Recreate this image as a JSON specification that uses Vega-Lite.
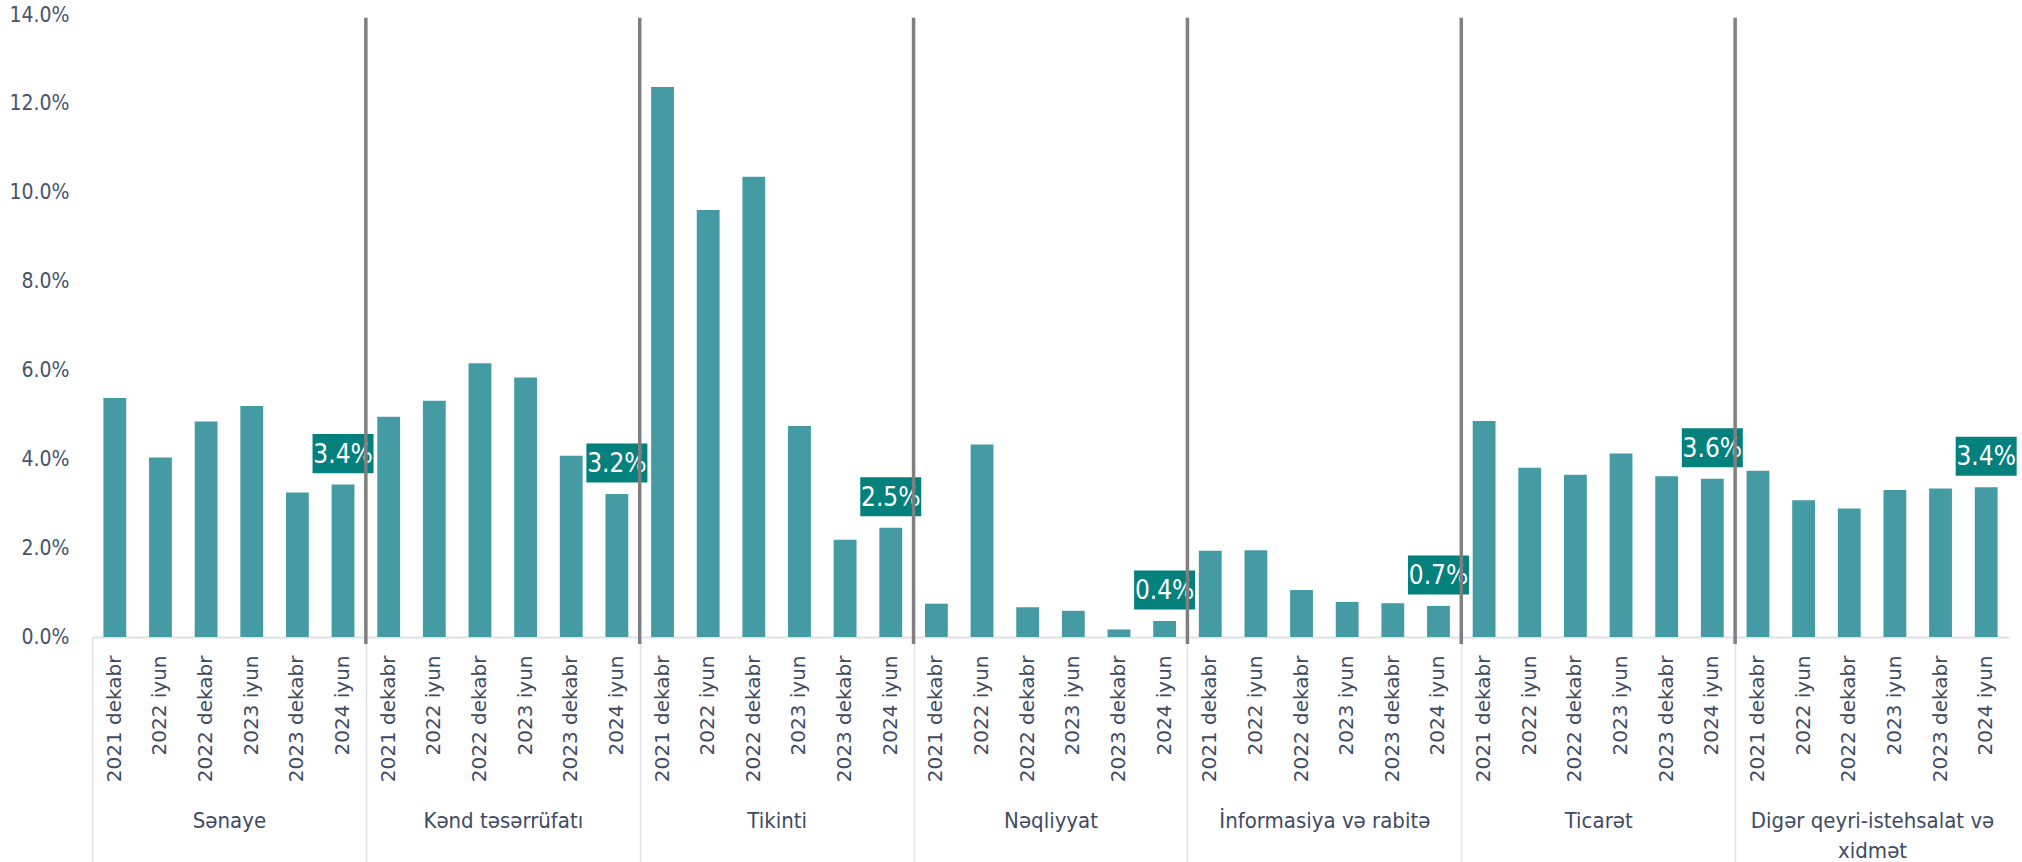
{
  "$schema": "https://vega.github.io/schema/vega-lite/v6.json",
  "autosize": {"type": "none"},
  "width": 1917,
  "height": 622,
  "padding": {"left": 92, "top": 15, "right": 13, "bottom": 225},
  "background": "white",
  "config": {"view": {"stroke": null}},
  "data": {"values": [
    {"sector": "Sənaye", "period": "2021 dekabr", "bar": "Sənaye|2021 dekabr", "value": 0.0538},
    {"sector": "Sənaye", "period": "2022 iyun", "bar": "Sənaye|2022 iyun", "value": 0.0404},
    {"sector": "Sənaye", "period": "2022 dekabr", "bar": "Sənaye|2022 dekabr", "value": 0.0485},
    {"sector": "Sənaye", "period": "2023 iyun", "bar": "Sənaye|2023 iyun", "value": 0.0520},
    {"sector": "Sənaye", "period": "2023 dekabr", "bar": "Sənaye|2023 dekabr", "value": 0.0325},
    {"sector": "Sənaye", "period": "2024 iyun", "bar": "Sənaye|2024 iyun", "value": 0.0343},
    {"sector": "Kənd təsərrüfatı", "period": "2021 dekabr", "bar": "Kənd təsərrüfatı|2021 dekabr", "value": 0.0496},
    {"sector": "Kənd təsərrüfatı", "period": "2022 iyun", "bar": "Kənd təsərrüfatı|2022 iyun", "value": 0.0532},
    {"sector": "Kənd təsərrüfatı", "period": "2022 dekabr", "bar": "Kənd təsərrüfatı|2022 dekabr", "value": 0.0616},
    {"sector": "Kənd təsərrüfatı", "period": "2023 iyun", "bar": "Kənd təsərrüfatı|2023 iyun", "value": 0.0584},
    {"sector": "Kənd təsərrüfatı", "period": "2023 dekabr", "bar": "Kənd təsərrüfatı|2023 dekabr", "value": 0.0408},
    {"sector": "Kənd təsərrüfatı", "period": "2024 iyun", "bar": "Kənd təsərrüfatı|2024 iyun", "value": 0.0322},
    {"sector": "Tikinti", "period": "2021 dekabr", "bar": "Tikinti|2021 dekabr", "value": 0.1238},
    {"sector": "Tikinti", "period": "2022 iyun", "bar": "Tikinti|2022 iyun", "value": 0.0961},
    {"sector": "Tikinti", "period": "2022 dekabr", "bar": "Tikinti|2022 dekabr", "value": 0.1036},
    {"sector": "Tikinti", "period": "2023 iyun", "bar": "Tikinti|2023 iyun", "value": 0.0475},
    {"sector": "Tikinti", "period": "2023 dekabr", "bar": "Tikinti|2023 dekabr", "value": 0.0219},
    {"sector": "Tikinti", "period": "2024 iyun", "bar": "Tikinti|2024 iyun", "value": 0.0246},
    {"sector": "Nəqliyyat", "period": "2021 dekabr", "bar": "Nəqliyyat|2021 dekabr", "value": 0.0075},
    {"sector": "Nəqliyyat", "period": "2022 iyun", "bar": "Nəqliyyat|2022 iyun", "value": 0.0433},
    {"sector": "Nəqliyyat", "period": "2022 dekabr", "bar": "Nəqliyyat|2022 dekabr", "value": 0.0067},
    {"sector": "Nəqliyyat", "period": "2023 iyun", "bar": "Nəqliyyat|2023 iyun", "value": 0.0059},
    {"sector": "Nəqliyyat", "period": "2023 dekabr", "bar": "Nəqliyyat|2023 dekabr", "value": 0.0017},
    {"sector": "Nəqliyyat", "period": "2024 iyun", "bar": "Nəqliyyat|2024 iyun", "value": 0.0036},
    {"sector": "İnformasiya və rabitə", "period": "2021 dekabr", "bar": "İnformasiya və rabitə|2021 dekabr", "value": 0.0194},
    {"sector": "İnformasiya və rabitə", "period": "2022 iyun", "bar": "İnformasiya və rabitə|2022 iyun", "value": 0.0195},
    {"sector": "İnformasiya və rabitə", "period": "2022 dekabr", "bar": "İnformasiya və rabitə|2022 dekabr", "value": 0.0106},
    {"sector": "İnformasiya və rabitə", "period": "2023 iyun", "bar": "İnformasiya və rabitə|2023 iyun", "value": 0.0079},
    {"sector": "İnformasiya və rabitə", "period": "2023 dekabr", "bar": "İnformasiya və rabitə|2023 dekabr", "value": 0.0076},
    {"sector": "İnformasiya və rabitə", "period": "2024 iyun", "bar": "İnformasiya və rabitə|2024 iyun", "value": 0.0070},
    {"sector": "Ticarət", "period": "2021 dekabr", "bar": "Ticarət|2021 dekabr", "value": 0.0486},
    {"sector": "Ticarət", "period": "2022 iyun", "bar": "Ticarət|2022 iyun", "value": 0.0381},
    {"sector": "Ticarət", "period": "2022 dekabr", "bar": "Ticarət|2022 dekabr", "value": 0.0365},
    {"sector": "Ticarət", "period": "2023 iyun", "bar": "Ticarət|2023 iyun", "value": 0.0413},
    {"sector": "Ticarət", "period": "2023 dekabr", "bar": "Ticarət|2023 dekabr", "value": 0.0362},
    {"sector": "Ticarət", "period": "2024 iyun", "bar": "Ticarət|2024 iyun", "value": 0.0356},
    {"sector": "Digər qeyri-istehsalat və xidmət", "period": "2021 dekabr", "bar": "Digər qeyri-istehsalat və xidmət|2021 dekabr", "value": 0.0374},
    {"sector": "Digər qeyri-istehsalat və xidmət", "period": "2022 iyun", "bar": "Digər qeyri-istehsalat və xidmət|2022 iyun", "value": 0.0308},
    {"sector": "Digər qeyri-istehsalat və xidmət", "period": "2022 dekabr", "bar": "Digər qeyri-istehsalat və xidmət|2022 dekabr", "value": 0.0289},
    {"sector": "Digər qeyri-istehsalat və xidmət", "period": "2023 iyun", "bar": "Digər qeyri-istehsalat və xidmət|2023 iyun", "value": 0.0331},
    {"sector": "Digər qeyri-istehsalat və xidmət", "period": "2023 dekabr", "bar": "Digər qeyri-istehsalat və xidmət|2023 dekabr", "value": 0.0334},
    {"sector": "Digər qeyri-istehsalat və xidmət", "period": "2024 iyun", "bar": "Digər qeyri-istehsalat və xidmət|2024 iyun", "value": 0.0337}
  ]},
  "resolve": {"scale": {"x": "independent"}, "axis": {"x": "independent"}},
  "layer": [
    {
      "encoding": {
        "x": {
          "field": "bar", "type": "nominal", "sort": null,
          "scale": {"paddingInner": 0.5, "paddingOuter": 0.25},
          "axis": {
            "orient": "bottom", "title": null, "labelAngle": -90,
            "labelExpr": "split(datum.value, '|')[1]",
            "labelFont": "DejaVu Sans", "labelFontSize": 20, "labelColor": "#3e4b62",
            "labelPadding": 18, "ticks": false, "domain": true,
            "domainColor": "#dde2e8", "domainWidth": 2, "labelOverlap": false
          }
        },
        "y": {
          "field": "value", "type": "quantitative",
          "scale": {"domain": [0, 0.14], "nice": false},
          "axis": {
            "title": null, "values": [0, 0.02, 0.04, 0.06, 0.08, 0.1, 0.12, 0.14],
            "format": ".1%", "grid": false, "domain": false, "ticks": false,
            "labelFont": "DejaVu Sans Condensed", "labelFontSize": 21,
            "labelColor": "#44546a", "labelPadding": 23
          }
        }
      },
      "layer": [
        {"mark": {"type": "bar", "color": "#449ba4"}},
        {
          "transform": [{"filter": "datum.period == '2024 iyun'"}],
          "mark": {
            "type": "point", "filled": true, "opacity": 1, "color": "#04807d",
            "shape": "M-1,-0.64L1,-0.64L1,0.64L-1,0.64Z", "size": 3721,
            "strokeWidth": 0, "yOffset": -31
          }
        },
        {
          "transform": [{"filter": "datum.period == '2024 iyun'"}],
          "mark": {
            "type": "text", "color": "white", "font": "DejaVu Sans Condensed",
            "fontSize": 26, "baseline": "middle", "align": "center", "yOffset": -30
          },
          "encoding": {
            "text": {"field": "value", "type": "quantitative", "format": ".1%"}
          }
        }
      ]
    },
    {
      "transform": [{"filter": "datum.period == '2021 dekabr' && datum.sector != 'Sənaye'"}],
      "mark": {"type": "rule", "color": "#7f7f7f", "strokeWidth": 3.5, "clip": false},
      "encoding": {
        "x": {
          "field": "sector", "type": "nominal", "bandPosition": 0,
          "scale": {
            "domain": ["Sənaye", "Kənd təsərrüfatı", "Tikinti", "Nəqliyyat", "İnformasiya və rabitə", "Ticarət", "Digər qeyri-istehsalat və xidmət"],
            "paddingInner": 0, "paddingOuter": 0
          },
          "axis": {
            "orient": "bottom", "title": null, "labelAngle": 0, "domain": false,
            "ticks": true, "tickSize": 225, "tickColor": "#dde2e8", "tickWidth": 1.5,
            "tickOffset": -137, "labelOffset": 137,
            "labelPadding": -52, "labelBaseline": "top", "labelLimit": 400,
            "labelFont": "DejaVu Sans Condensed", "labelFontSize": 22, "labelColor": "#3e4b62",
            "labelLineHeight": 30, "labelOverlap": false,
            "labelExpr": "datum.value == 'Digər qeyri-istehsalat və xidmət' ? ['Digər qeyri-istehsalat və', 'xidmət'] : datum.value"
          }
        },
        "y": {"datum": 0.1394, "type": "quantitative"},
        "y2": {"datum": -0.0016}
      }
    }
  ]
}
